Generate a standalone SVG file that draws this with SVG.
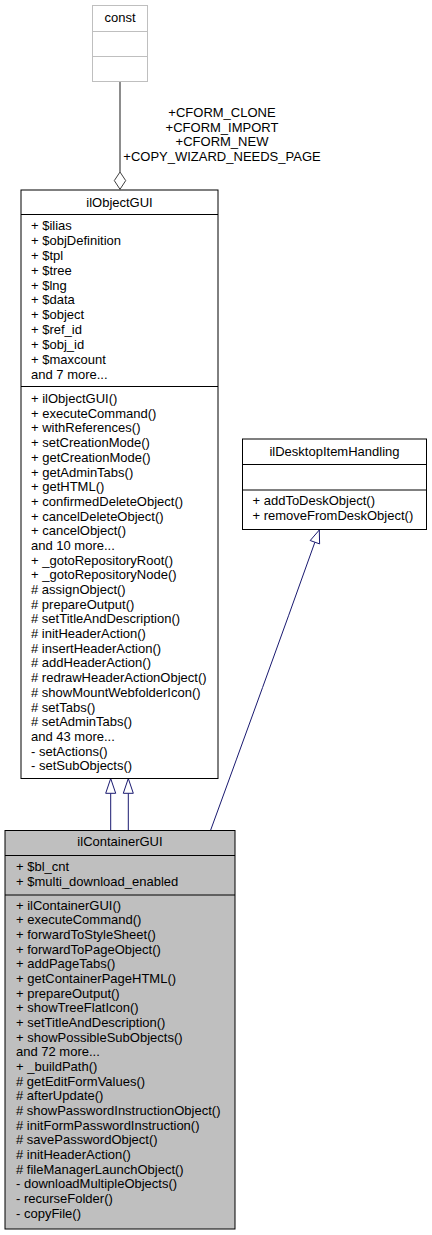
<svg xmlns="http://www.w3.org/2000/svg" width="432" height="1235" viewBox="0 0 432 1235">
<style>
text{font-family:"Liberation Sans",Arial,Helvetica,sans-serif;font-size:13px;fill:#000}
.c{text-anchor:middle}
.box{fill:#fff;stroke:#000;stroke-width:1}
.gbox{fill:#fff;stroke:#bfbfbf;stroke-width:1}
.sel{fill:#bfbfbf;stroke:#000;stroke-width:1}
.ln{stroke:#000;stroke-width:1}
.gln{stroke:#bfbfbf;stroke-width:1}
.inh{fill:none;stroke:#191970;stroke-width:1}
.inhh{fill:#fff;stroke:#191970;stroke-width:1}
.agg{fill:none;stroke:#404040;stroke-width:1.2}
.aggh{fill:#fff;stroke:#404040;stroke-width:1}
</style>
<rect width="432" height="1235" fill="#fff"/>
<g id="connectors">
<path class="agg" d="M120,82 L120,172"/>
<polygon class="aggh" points="120,172 125.7,180.6 120,189.3 114.3,180.6"/>
<text class="c" x="222" y="116.7">+CFORM_CLONE</text>
<text class="c" x="222" y="131.5">+CFORM_IMPORT</text>
<text class="c" x="222" y="146.3">+CFORM_NEW</text>
<text class="c" x="222" y="161">+COPY_WIZARD_NEEDS_PAGE</text>
<path class="inh" d="M110.7,830 L110.7,793.3"/>
<polygon class="inhh" points="110.7,778.5 115.7,793.3 105.7,793.3"/>
<path class="inh" d="M128.3,830 L128.3,793.3"/>
<polygon class="inhh" points="128.3,778.5 133.3,793.3 123.3,793.3"/>
<path class="inh" d="M210.7,830 C245,736 280,640 314.9,542.2"/>
<polygon class="inhh" points="319.3,530 319.6,543.9 310.2,540.5"/>
</g>
<g id="const">
<rect class="gbox" x="92.5" y="5.5" width="55" height="76"/>
<line class="gln" x1="92.5" y1="31.5" x2="147.5" y2="31.5"/>
<line class="gln" x1="92.5" y1="56.5" x2="147.5" y2="56.5"/>
<text class="c" x="120" y="22">const</text>
</g>
<g id="ilObjectGUI">
<rect class="box" x="21" y="190" width="197" height="588.5"/>
<line class="ln" x1="21" y1="214.5" x2="218" y2="214.5"/>
<line class="ln" x1="21" y1="386.5" x2="218" y2="386.5"/>
<text class="c" x="119.5" y="206.5">ilObjectGUI</text>
<text x="31" y="230">+ $ilias</text>
<text x="31" y="244.9">+ $objDefinition</text>
<text x="31" y="259.7">+ $tpl</text>
<text x="31" y="274.6">+ $tree</text>
<text x="31" y="289.5">+ $lng</text>
<text x="31" y="304.4">+ $data</text>
<text x="31" y="319.2">+ $object</text>
<text x="31" y="334.1">+ $ref_id</text>
<text x="31" y="349">+ $obj_id</text>
<text x="31" y="363.8">+ $maxcount</text>
<text x="31" y="378.7">and 7 more...</text>
<text x="31" y="403">+ ilObjectGUI()</text>
<text x="31" y="417.7">+ executeCommand()</text>
<text x="31" y="432.4">+ withReferences()</text>
<text x="31" y="447.1">+ setCreationMode()</text>
<text x="31" y="461.8">+ getCreationMode()</text>
<text x="31" y="476.5">+ getAdminTabs()</text>
<text x="31" y="491.1">+ getHTML()</text>
<text x="31" y="505.8">+ confirmedDeleteObject()</text>
<text x="31" y="520.5">+ cancelDeleteObject()</text>
<text x="31" y="535.2">+ cancelObject()</text>
<text x="31" y="549.9">and 10 more...</text>
<text x="31" y="564.6">+ _gotoRepositoryRoot()</text>
<text x="31" y="579.3">+ _gotoRepositoryNode()</text>
<text x="31" y="594"># assignObject()</text>
<text x="31" y="608.7"># prepareOutput()</text>
<text x="31" y="623.4"># setTitleAndDescription()</text>
<text x="31" y="638"># initHeaderAction()</text>
<text x="31" y="652.7"># insertHeaderAction()</text>
<text x="31" y="667.4"># addHeaderAction()</text>
<text x="31" y="682.1"># redrawHeaderActionObject()</text>
<text x="31" y="696.8"># showMountWebfolderIcon()</text>
<text x="31" y="711.5"># setTabs()</text>
<text x="31" y="726.2"># setAdminTabs()</text>
<text x="31" y="740.9">and 43 more...</text>
<text x="31" y="755.6">- setActions()</text>
<text x="31" y="770.3">- setSubObjects()</text>
</g>
<g id="ilDesktopItemHandling">
<rect class="box" x="242.5" y="439" width="184" height="90.5"/>
<line class="ln" x1="242.5" y1="464.5" x2="426.5" y2="464.5"/>
<line class="ln" x1="242.5" y1="490" x2="426.5" y2="490"/>
<text class="c" x="334.5" y="455.5">ilDesktopItemHandling</text>
<text x="252.5" y="505">+ addToDeskObject()</text>
<text x="252.5" y="520">+ removeFromDeskObject()</text>
</g>
<g id="ilContainerGUI">
<rect class="sel" x="5" y="830.5" width="230" height="398.5"/>
<line class="ln" x1="5" y1="855.5" x2="235" y2="855.5"/>
<line class="ln" x1="5" y1="895" x2="235" y2="895"/>
<text class="c" x="120" y="845.7">ilContainerGUI</text>
<text x="16" y="871.2">+ $bl_cnt</text>
<text x="16" y="886">+ $multi_download_enabled</text>
<text x="16" y="909.5">+ ilContainerGUI()</text>
<text x="16" y="924.2">+ executeCommand()</text>
<text x="16" y="938.8">+ forwardToStyleSheet()</text>
<text x="16" y="953.5">+ forwardToPageObject()</text>
<text x="16" y="968.2">+ addPageTabs()</text>
<text x="16" y="982.9">+ getContainerPageHTML()</text>
<text x="16" y="997.5">+ prepareOutput()</text>
<text x="16" y="1012.2">+ showTreeFlatIcon()</text>
<text x="16" y="1026.9">+ setTitleAndDescription()</text>
<text x="16" y="1041.5">+ showPossibleSubObjects()</text>
<text x="16" y="1056.2">and 72 more...</text>
<text x="16" y="1070.9">+ _buildPath()</text>
<text x="16" y="1085.5"># getEditFormValues()</text>
<text x="16" y="1100.2"># afterUpdate()</text>
<text x="16" y="1114.9"># showPasswordInstructionObject()</text>
<text x="16" y="1129.6"># initFormPasswordInstruction()</text>
<text x="16" y="1144.2"># savePasswordObject()</text>
<text x="16" y="1158.9"># initHeaderAction()</text>
<text x="16" y="1173.6"># fileManagerLaunchObject()</text>
<text x="16" y="1188.2">- downloadMultipleObjects()</text>
<text x="16" y="1202.9">- recurseFolder()</text>
<text x="16" y="1217.6">- copyFile()</text>
</g>
</svg>
